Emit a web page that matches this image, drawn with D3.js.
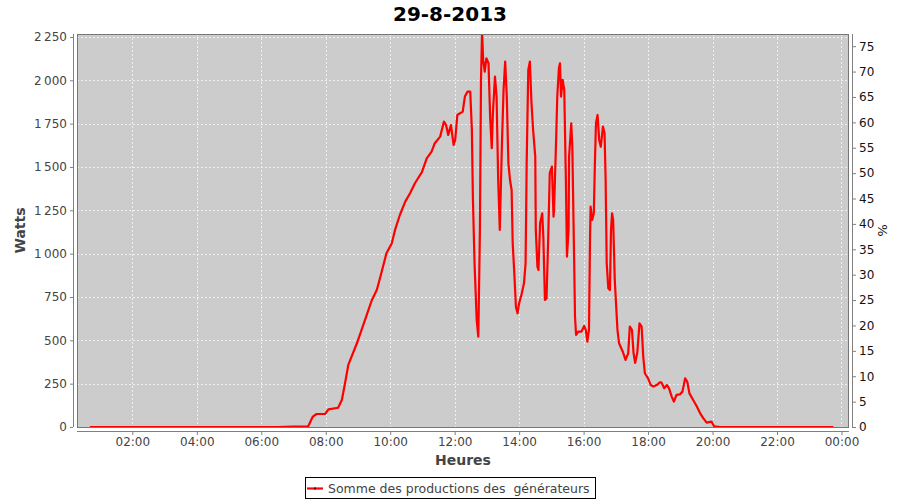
<!DOCTYPE html>
<html>
<head>
<meta charset="utf-8">
<script src="https://cdn.jsdelivr.net/npm/d3@7"></script>
<style>
  html, body { margin: 0; padding: 0; background: #fff; }
  svg { display: block; font-family: "DejaVu Sans", sans-serif; }
</style>
</head>
<body>
<svg id="chart" width="900" height="500"></svg>
<script>
// ---- data ----
const chartTitle = "29-8-2013";
const seriesName = "Somme des productions des  générateurs";
const times = [
  "00:41","01:30","02:30","03:30","04:30","05:30","06:30","07:00","07:27",
  "07:36","07:43","07:59","08:05","08:23","08:30","08:36","08:42","08:58",
  "09:13","09:26","09:35","09:41","09:53","10:03","10:09","10:18","10:28",
  "10:37","10:46","10:59","11:08","11:17","11:23","11:33","11:40","11:44",
  "11:48","11:53","11:58","12:01","12:05","12:10","12:15","12:19","12:24",
  "12:29","12:32","12:34","12:37","12:41","12:44","12:47","12:49","12:51",
  "12:53","12:56","12:59","13:03","13:06","13:09","13:11","13:15","13:18",
  "13:21","13:24","13:28","13:31","13:34","13:37","13:40","13:43","13:46",
  "13:48","13:51","13:54","13:57","14:00","14:05","14:09","14:12","14:14",
  "14:17","14:20","14:23","14:26","14:30","14:31","14:34","14:36","14:39",
  "14:43","14:45","14:48","14:51","14:54","14:57","15:01","15:04","15:05",
  "15:09","15:11","15:14","15:16","15:18","15:21","15:24","15:27","15:29",
  "15:32","15:33","15:37","15:39","15:42","15:44","15:46","15:50","15:56",
  "16:01","16:04","16:07","16:10","16:12","16:13","16:16","16:19","16:21",
  "16:23","16:26","16:29","16:32","16:36","16:39","16:41","16:43","16:46",
  "16:49","16:51","16:53","16:55","16:58","17:03","17:06","17:13","17:18",
  "17:23","17:26","17:30","17:33","17:36","17:40","17:44","17:48","17:51",
  "17:54","17:58","18:00","18:05","18:10","18:16","18:22","18:25","18:30",
  "18:35","18:39","18:44","18:48","18:53","18:59","19:04","19:09","19:13",
  "19:17","19:24","19:31","19:37","19:43","19:49","19:58","20:03","20:14",
  "21:00","22:00","23:00","23:45"
];
const watts = [
  0,0,0,0,0,0,0,2,2,
  60,75,75,102,111,156,254,358,483,
  617,733,790,858,1002,1060,1137,1223,1300,
  1348,1406,1470,1550,1588,1637,1675,1762,1742,
  1685,1742,1627,1656,1800,1810,1819,1906,1935,
  1935,1714,1310,944,617,521,1137,2002,2280,
  2118,2050,2127,2098,1790,1608,1800,2021,1906,
  1425,1137,1637,1944,2108,1906,1521,1425,1367,
  1060,887,694,656,714,771,829,944,1521,
  2060,2108,1867,1714,1560,1137,925,906,1175,
  1233,1098,733,742,1079,1464,1502,1213,1252,
  1675,1906,2069,2098,1906,2002,1944,1425,983,
  1137,1560,1752,1617,1040,636,531,550,550,
  583,560,492,560,1098,1271,1194,1233,1521,
  1752,1800,1656,1617,1733,1694,1425,944,800,
  790,1137,1233,1194,848,560,483,434,387,
  425,579,560,425,370,430,598,579,406,
  310,290,281,242,233,242,258,256,223,
  242,223,175,146,185,188,204,281,261,
  194,156,117,79,50,25,31,4,0,
  0,0,0,0
];
const wattTicks = [0,250,500,750,1000,1250,1500,1750,2000,2250];
const pctTicks = [0,5,10,15,20,25,30,35,40,45,50,55,60,65,70,75];
const xTickHours = [2,4,6,8,10,12,14,16,18,20,22,24];
const xLabel = "Heures";
const yLabel = "Watts";
const y2Label = "%";

// ---- layout ----
const svg = d3.select("#chart");
const plot = {left: 77, right: 849, top: 34, bottom: 427};
const day = new Date(2013, 7, 29);
const parseT = s => { const [h, m] = s.split(":").map(Number); return new Date(2013, 7, 29, h, m); };
const data = times.map((t, i) => ({t: parseT(t), v: watts[i]}));

const x = d3.scaleTime()
  .domain([new Date(2013, 7, 29, 0, 17), new Date(2013, 7, 30, 0, 14)])
  .range([plot.left, plot.right]);
const y = d3.scaleLinear().domain([0, 2267]).range([plot.bottom, plot.top]);
const y2 = d3.scaleLinear().domain([0, 77.4]).range([plot.bottom, plot.top]);

const xTicks = xTickHours.map(h => new Date(2013, 7, 29, h, 0));
const fmtTime = d3.timeFormat("%H:%M");
const fmtW = d => d3.format(",")(d).replace(/,/g, "\u202F");

// title
svg.append("text").attr("x", 450).attr("y", 21).attr("text-anchor", "middle")
  .attr("font-size", 20).attr("font-weight", "bold").attr("fill", "#000").text(chartTitle);

// plot background
svg.append("rect").attr("x", plot.left).attr("y", plot.top)
  .attr("width", plot.right - plot.left).attr("height", plot.bottom - plot.top)
  .attr("fill", "#cccccc");

// gridlines
const grid = svg.append("g").attr("stroke", "#ffffff").attr("stroke-width", 0.8)
  .attr("stroke-dasharray", "2,2").attr("opacity", 0.9);
grid.selectAll("line.h").data(wattTicks).join("line")
  .attr("x1", plot.left).attr("x2", plot.right)
  .attr("y1", d => Math.round(y(d)) + 0.5).attr("y2", d => Math.round(y(d)) + 0.5);
grid.selectAll("line.v").data(xTicks).join("line")
  .attr("y1", plot.top).attr("y2", plot.bottom)
  .attr("x1", d => Math.round(x(d)) + 0.5).attr("x2", d => Math.round(x(d)) + 0.5);

// clip
svg.append("clipPath").attr("id", "clip").append("rect")
  .attr("x", plot.left).attr("y", plot.top)
  .attr("width", plot.right - plot.left).attr("height", plot.bottom - plot.top);

// series line
const line = d3.line().x(d => x(d.t)).y(d => y(d.v));
svg.append("path").datum(data).attr("clip-path", "url(#clip)")
  .attr("fill", "none").attr("stroke", "#ff0000").attr("stroke-width", 2.2)
  .attr("stroke-linejoin", "round").attr("d", line);

// plot outline
svg.append("rect").attr("x", plot.left + 0.5).attr("y", plot.top + 0.5)
  .attr("width", plot.right - plot.left - 1).attr("height", plot.bottom - plot.top)
  .attr("fill", "none").attr("stroke", "#777").attr("stroke-width", 1);

// axes
const axisColor = "#808080";
const gx = svg.append("g").attr("transform", `translate(0,431)`)
  .call(d3.axisBottom(x).tickValues(xTicks).tickFormat(fmtTime).tickSize(4).tickSizeOuter(0).tickPadding(2));
const gy = svg.append("g").attr("transform", `translate(73,0)`)
  .call(d3.axisLeft(y).tickValues(wattTicks).tickFormat(fmtW).tickSize(3).tickSizeOuter(0).tickPadding(3));
const gy2 = svg.append("g").attr("transform", `translate(852,0)`)
  .call(d3.axisRight(y2).tickValues(pctTicks).tickSize(4).tickSizeOuter(0).tickPadding(3));
[gx, gy, gy2].forEach(g => {
  g.select(".domain").attr("stroke", axisColor);
  g.selectAll(".tick line").attr("stroke", axisColor);
  g.selectAll(".tick text").attr("font-family", "DejaVu Sans").attr("font-size", 12).attr("fill", "#444");
});
gx.select(".domain").attr("d", `M${plot.left},0.5H${plot.right}`);
gy.select(".domain").attr("d", `M0.5,${plot.top}V${plot.bottom}`);
gy2.select(".domain").attr("d", `M0.5,${plot.top}V${plot.bottom}`);
gy2.selectAll(".tick text").attr("fill", "#111");

// axis labels
svg.append("text").attr("x", 463).attr("y", 465).attr("text-anchor", "middle")
  .attr("font-size", 14).attr("font-weight", "bold").attr("fill", "#444").text(xLabel);
svg.append("text").attr("transform", "translate(25,230.5) rotate(-90)").attr("text-anchor", "middle")
  .attr("font-size", 14).attr("font-weight", "bold").attr("fill", "#444").text(yLabel);
svg.append("text").attr("transform", "translate(878,230.5) rotate(90)").attr("text-anchor", "middle")
  .attr("font-size", 13).attr("fill", "#111").text(y2Label);

// legend
const lg = svg.append("g");
lg.append("rect").attr("x", 305.5).attr("y", 477.5).attr("width", 290).attr("height", 21)
  .attr("fill", "#fff").attr("stroke", "#000").attr("stroke-width", 1);
lg.append("line").attr("x1", 307).attr("x2", 323).attr("y1", 488.5).attr("y2", 488.5)
  .attr("stroke", "#ff0000").attr("stroke-width", 2.2);
lg.append("rect").attr("x", 314).attr("y", 487.5).attr("width", 2).attr("height", 2).attr("fill", "#600");
lg.append("text").attr("x", 328).attr("y", 492.5).attr("font-size", 12.5).attr("fill", "#444")
  .style("white-space", "pre").text(seriesName);
</script>
</body>
</html>
